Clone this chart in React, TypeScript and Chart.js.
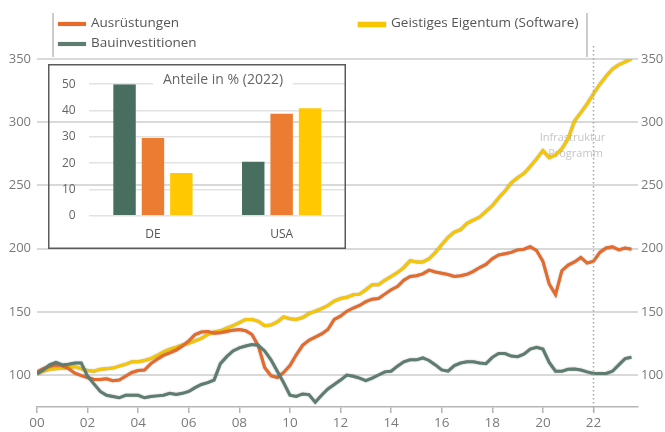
import React, { useEffect, useRef } from "react";
import { Chart, registerables } from "chart.js";

Chart.register(...registerables);

// ---------- Data ----------
const quarterYears: number[] = [
  2000, 2000.25, 2000.5, 2000.75,
  2001, 2001.25, 2001.5, 2001.75,
  2002, 2002.25, 2002.5, 2002.75,
  2003, 2003.25, 2003.5, 2003.75,
  2004, 2004.25, 2004.5, 2004.75,
  2005, 2005.25, 2005.5, 2005.75,
  2006, 2006.25, 2006.5, 2006.75,
  2007, 2007.25, 2007.5, 2007.75,
  2008, 2008.25, 2008.5, 2008.75,
  2009, 2009.25, 2009.5, 2009.75,
  2010, 2010.25, 2010.5, 2010.75,
  2011, 2011.25, 2011.5, 2011.75,
  2012, 2012.25, 2012.5, 2012.75,
  2013, 2013.25, 2013.5, 2013.75,
  2014, 2014.25, 2014.5, 2014.75,
  2015, 2015.25, 2015.5, 2015.75,
  2016, 2016.25, 2016.5, 2016.75,
  2017, 2017.25, 2017.5, 2017.75,
  2018, 2018.25, 2018.5, 2018.75,
  2019, 2019.25, 2019.5, 2019.75,
  2020, 2020.25, 2020.5, 2020.75,
  2021, 2021.25, 2021.5, 2021.75,
  2022, 2022.25, 2022.5, 2022.75,
  2023, 2023.25, 2023.5,
];

const ausruestungen: number[] = [
  102.5, 105, 107, 108,
  107.5, 105, 101.5, 99.5,
  98, 96.5, 96.5, 97,
  95.5, 96, 99, 102,
  103.5, 104, 109, 112.5,
  115.5, 117.5, 119.7, 123,
  127, 132, 134, 134.5,
  133, 133.5, 134.5, 135.5,
  136, 135, 132, 123,
  106, 99.5, 98, 102,
  107.5, 116, 123.5, 127.5,
  130, 132.5, 136, 144,
  146.6, 150.5, 153, 155,
  158, 160, 160.5, 164,
  167.5, 170, 175, 178,
  178.5, 180, 183, 181.5,
  180.5, 179.5, 178, 178.5,
  179.7, 182, 185, 187.5,
  192, 195, 196, 197,
  199, 199.5, 201.5, 198.5,
  190, 172, 163.5, 182.5,
  187, 189.5, 193, 188.5,
  190, 197, 200.5, 201.5,
  199, 200.5, 199.5,
];

const bauinvestitionen: number[] = [
  101, 104, 108, 110,
  108, 108.5, 109.5, 109.5,
  99, 93, 87, 84,
  83, 82, 84, 84,
  84, 82, 83, 83.5,
  84, 85.5, 84.7, 85.5,
  87, 90, 92.5, 94,
  96, 109, 114.5, 119,
  121.5, 123, 124.2, 123.5,
  119, 112, 103, 94,
  84, 83, 85, 84.5,
  78.5, 84, 89, 92.5,
  96, 100, 99, 97.5,
  95.5, 97.5, 100, 102.5,
  103, 107, 110.5, 112,
  112, 113.5, 111.5, 108,
  104, 103, 107.5, 109.5,
  110.5, 110.5, 109.5, 109,
  114, 117, 117, 115,
  114.5, 116.5, 120.5, 122,
  120.5, 110, 103, 103,
  104.5, 104.7, 104, 102.5,
  101.3, 101.3, 101.3, 103,
  108, 113, 114,
];

const software: number[] = [
  101, 103, 104.5, 105,
  105.3, 106, 106.6, 105,
  103.5, 103, 104.5, 105,
  105.5, 107, 108.5, 110.5,
  110.5, 111.5, 113, 115.5,
  118.4, 120.5, 122, 123.7,
  125, 127, 129, 132,
  134, 135, 137, 139,
  141.5, 144, 144, 142.5,
  139, 139.5, 142, 146,
  144.5, 144, 145.5, 148.5,
  150.5, 152.5, 155, 158.5,
  160.5, 161.5, 163.5, 164,
  167.5, 171.5, 171.5, 175,
  178, 181, 185, 190.5,
  189.5, 189.5, 192, 197,
  203, 209, 213, 215,
  220, 222.5, 225, 229.5,
  234, 240, 245.5, 252,
  256, 259.5, 265, 271,
  277.5, 272, 274, 279,
  287, 301, 307.5, 314.5,
  322.5, 330, 336.3, 342,
  345.5, 347.8, 350,
];

const seriesNames = ["Ausrüstungen", "Bauinvestitionen", "Geistiges Eigentum (Software)"];
const xTickYears = [2000, 2002, 2004, 2006, 2008, 2010, 2012, 2014, 2016, 2018, 2020, 2022];
const xTickLabels = ["00", "02", "04", "06", "08", "10", "12", "14", "16", "18", "20", "22"];
const yTicks = [100, 150, 200, 250, 300, 350];
const markerYear = 2022;
const markerLabel = ["Infrastruktur", "Programm"];

const insetTitle = "Anteile in % (2022)";
const insetCategories = ["DE", "USA"];
const insetBau = [50, 20.5];
const insetAus = [29.5, 38.8];
const insetSoft = [16.2, 40.9];
const insetTicks = [0, 10, 20, 30, 40, 50];

// ---------- Styles ----------
const C_ORANGE = "#e76a2a";
const C_GREEN = "#5e7d70";
const C_YELLOW = "#f7c600";
const BAR_GREEN = "#486e5f";
const BAR_ORANGE = "#ec7c32";
const BAR_YELLOW = "#ffc800";
const FONT = '"Open Sans", sans-serif';

const lineShadow = {
  id: "lineShadow",
  beforeDatasetDraw(chart: any) {
    const c = chart.ctx;
    c.save();
    c.shadowColor = "rgba(70,70,70,0.55)";
    c.shadowBlur = 1.5;
  },
  afterDatasetDraw(chart: any) {
    chart.ctx.restore();
  },
};

const markerPlugin = {
  id: "markerPlugin",
  beforeDatasetsDraw(chart: any) {
    const { ctx, scales } = chart;
    const px = scales.x.getPixelForValue(markerYear);
    ctx.save();
    ctx.fillStyle = "#c6c6c6";
    ctx.font = `11px ${FONT}`;
    ctx.textAlign = "center";
    ctx.textBaseline = "middle";
    ctx.fillText(markerLabel[0], px - 21, 138);
    ctx.fillText(markerLabel[1], px - 18, 154);
    ctx.restore();
  },
  afterDatasetsDraw(chart: any) {
    const { ctx, scales, chartArea } = chart;
    const px = Math.round(scales.x.getPixelForValue(markerYear)) + 0.5;
    ctx.save();
    ctx.strokeStyle = "#a2aaa7";
    ctx.lineWidth = 1.5;
    ctx.setLineDash([1.5, 2.5]);
    ctx.beginPath();
    ctx.moveTo(px, 46);
    ctx.lineTo(px, chartArea.bottom + 4);
    ctx.stroke();
    ctx.restore();
  },
};

const insetDecor = {
  id: "insetDecor",
  beforeDatasetsDraw(chart: any) {
    const { ctx } = chart;
    ctx.save();
    ctx.font = `14px ${FONT}`;
    const w = ctx.measureText(insetTitle).width;
    const cx = 175;
    const cy = 16;
    ctx.fillStyle = "#ffffff";
    ctx.fillRect(cx - w / 2 - 10, cy - 9, w + 20, 18);
    ctx.fillStyle = "#666666";
    ctx.textAlign = "center";
    ctx.textBaseline = "middle";
    ctx.fillText(insetTitle, cx, cy);
    ctx.restore();
  },
  afterDraw(chart: any) {
    const { ctx, width, height } = chart;
    ctx.save();
    ctx.strokeStyle = "#5a5a5a";
    ctx.lineWidth = 1.5;
    ctx.strokeRect(0.75, 0.75, width - 1.5, height - 1.5);
    ctx.restore();
  },
};

const pts = (vals: number[]) => quarterYears.map((x, i) => ({ x, y: vals[i] }));

export default function App() {
  const mainRef = useRef<HTMLCanvasElement>(null);
  const insetRef = useRef<HTMLCanvasElement>(null);

  useEffect(() => {
    const yAxisCommon = {
      min: 74.7,
      max: 350,
      afterBuildTicks: (s: any) => {
        s.ticks = yTicks.map((v) => ({ value: v }));
      },
    };
    const main = new Chart(mainRef.current!, {
      type: "line",
      data: {
        datasets: [
          {
            label: seriesNames[1],
            data: pts(bauinvestitionen),
            borderColor: C_GREEN,
            borderWidth: 3,
            pointRadius: 0,
            tension: 0,
            order: 1,
          },
          {
            label: seriesNames[0],
            data: pts(ausruestungen),
            borderColor: C_ORANGE,
            borderWidth: 3,
            pointRadius: 0,
            tension: 0,
            order: 2,
          },
          {
            label: seriesNames[2],
            data: pts(software),
            borderColor: C_YELLOW,
            borderWidth: 3,
            pointRadius: 0,
            tension: 0,
            order: 3,
          },
        ],
      },
      options: {
        responsive: false,
        animation: false,
        layout: { padding: { top: 59, left: 0, right: 0, bottom: 0 } },
        plugins: { legend: { display: false }, tooltip: { enabled: false } },
        scales: {
          x: {
            type: "linear",
            min: 2000,
            max: 2023.76,
            afterBuildTicks: (s: any) => {
              s.ticks = xTickYears.map((v) => ({ value: v }));
            },
            afterFit: (s: any) => {
              s.height = 25;
            },
            ticks: {
              autoSkip: false,
              maxRotation: 0,
              padding: 2,
              color: "#7a7a7a",
              font: { family: FONT, size: 13.5 },
              callback: (v: any) => {
                const i = xTickYears.indexOf(Number(v));
                return i >= 0 ? xTickLabels[i] : "";
              },
            },
            grid: { drawOnChartArea: false, drawTicks: true, tickLength: 6, color: "#b5b5b5", lineWidth: 1.5 },
            border: { display: true, color: "#b5b5b5", width: 1.5 },
          },
          y: {
            ...yAxisCommon,
            position: "left",
            afterFit: (s: any) => {
              s.width = 37;
            },
            ticks: { padding: 6, color: "#7a7a7a", font: { family: FONT, size: 13 } },
            grid: { color: "#d9d9d9", lineWidth: 2, drawTicks: false },
            border: { display: false },
          },
          y2: {
            ...yAxisCommon,
            position: "right",
            afterFit: (s: any) => {
              s.width = 27;
            },
            ticks: { padding: 3, color: "#7a7a7a", font: { family: FONT, size: 13 } },
            grid: { display: false, drawTicks: false },
            border: { display: false },
          },
        },
      } as any,
      plugins: [lineShadow, markerPlugin],
    });

    const inset = new Chart(insetRef.current!, {
      type: "bar",
      data: {
        labels: insetCategories,
        datasets: [
          { label: seriesNames[1], data: insetBau, backgroundColor: BAR_GREEN },
          { label: seriesNames[0], data: insetAus, backgroundColor: BAR_ORANGE },
          { label: seriesNames[2], data: insetSoft, backgroundColor: BAR_YELLOW },
        ],
      },
      options: {
        responsive: false,
        animation: false,
        layout: { padding: { top: 15, left: 0, right: 0, bottom: 0 } },
        plugins: { legend: { display: false }, tooltip: { enabled: false } },
        datasets: { bar: { categoryPercentage: 0.662, barPercentage: 0.79 } },
        scales: {
          x: {
            afterFit: (s: any) => {
              s.height = 33.3;
            },
            ticks: { padding: 12, color: "#555555", font: { family: FONT, size: 12 } },
            grid: { display: false, drawTicks: false },
            border: { display: false },
          },
          y: {
            min: 0,
            max: 50,
            afterBuildTicks: (s: any) => {
              s.ticks = insetTicks.map((v) => ({ value: v }));
            },
            afterFit: (s: any) => {
              s.width = 40.6;
            },
            ticks: { padding: 13, color: "#666666", font: { family: FONT, size: 12 } },
            grid: { color: "#e2e2e2", lineWidth: 1.5, drawTicks: false },
            border: { display: false },
          },
        },
      } as any,
      plugins: [insetDecor],
    });

    return () => {
      main.destroy();
      inset.destroy();
    };
  }, []);

  const legendText: React.CSSProperties = {
    position: "absolute",
    fontFamily: FONT,
    fontSize: 13.5,
    lineHeight: "18px",
    color: "#555555",
    whiteSpace: "nowrap",
  };
  const swatch = (left: number, top: number, color: string): React.CSSProperties => ({
    position: "absolute",
    left,
    top,
    width: 28,
    height: 4.5,
    background: color,
    boxShadow: "0 0 1px rgba(70,70,70,0.6)",
  });
  const sep = (left: number): React.CSSProperties => ({
    position: "absolute",
    left,
    top: 13,
    width: 1.5,
    height: 44,
    background: "#cccccc",
  });

  return (
    <div style={{ position: "fixed", left: 0, top: 0, width: 665, height: 432, background: "#ffffff", overflow: "hidden" }}>
      <canvas ref={mainRef} width={665} height={432} style={{ position: "absolute", left: 0, top: 0, width: 665, height: 432 }} />
      <div style={sep(52)} />
      <div style={sep(586)} />
      <div style={swatch(58, 21.5, C_ORANGE)} />
      <div style={{ ...legendText, left: 91, top: 13 }}>{seriesNames[0]}</div>
      <div style={swatch(58, 41.5, C_GREEN)} />
      <div style={{ ...legendText, left: 91, top: 32.5 }}>{seriesNames[1]}</div>
      <div style={swatch(358, 22, C_YELLOW)} />
      <div style={{ ...legendText, left: 391, top: 13 }}>{seriesNames[2]}</div>
      <canvas ref={insetRef} width={298} height={185} style={{ position: "absolute", left: 48, top: 64, width: 298, height: 185 }} />
    </div>
  );
}
